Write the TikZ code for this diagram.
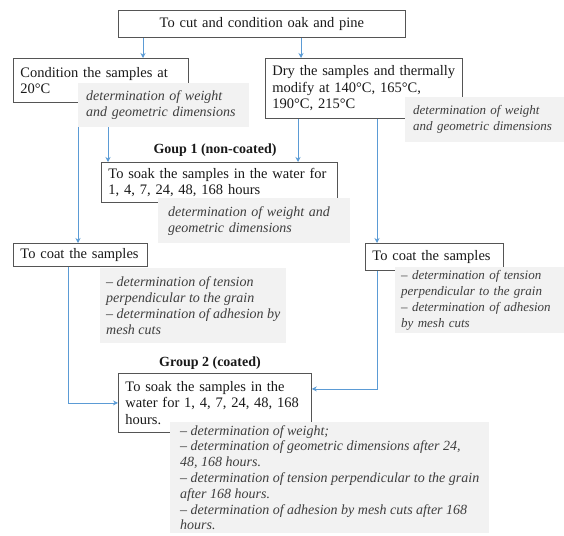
\documentclass[tikz,border=0pt]{standalone}
\usepackage{fontspec}
\setmainfont{Liberation Serif}
\usepackage{tikz}
\usetikzlibrary{calc,arrows.meta}
\definecolor{arrowblue}{RGB}{91,155,213}
\definecolor{boxgray}{RGB}{85,85,85}
\definecolor{notefill}{RGB}{242,242,242}
\definecolor{notetext}{RGB}{62,62,62}

\begin{document}
\begin{tikzpicture}[x=1pt,y=-1pt]
          \tikzstyle{box}=[draw=boxgray,line width=.8pt,fill=white,anchor=north west,align=left,inner xsep=7pt,inner ysep=2pt,text=black!90,font=\fontsize{14.5}{16.5}\selectfont]
          \tikzstyle{note}=[fill=notefill,anchor=north west,align=left,inner xsep=8pt,inner ysep=0pt,text=notetext,font=\fontsize{14}{15.8}\selectfont\itshape]
          \tikzstyle{arr}=[draw=arrowblue,line width=.8pt,-{Stealth[length=5pt,width=5pt]}]
          \tikzstyle{glabel}=[text=black!90,font=\fontsize{14}{16}\selectfont\bfseries]
          \useasboundingbox (0,0) rectangle (564,535);
          % steps
          \node[box,align=center,text width=273pt,minimum height=27pt] (cut) at (118,10) {To cut and condition oak and pine};
          \node[box,text width=161pt,minimum height=44pt] (cond) at (13,58) {Condition the samples at\\20°C};
          \node[box,text width=183pt,minimum height=60pt] (dry) at (265,58) {Dry the samples and thermally\\modify at 140°C, 165°C,\\190°C, 215°C};
          \node[box,text width=222pt,minimum height=40pt] (soakA) at (101,162) {To soak the samples in the water for\\1, 4, 7, 24, 48, 168 hours};
          \node[box,text width=120pt,minimum height=23pt] (coatL) at (13,243) {To coat the samples};
          \node[box,text width=124pt,minimum height=27pt] (coatR) at (365,243) {To coat the samples};
          \node[box,text width=179pt,minimum height=59pt] (soakB) at (118,373) {To soak the samples in the\\water for 1, 4, 7, 24, 48, 168\\hours.};
          \node[glabel] (grpA) at (215,150) {Goup 1 (non-coated)};
          \node[glabel] (grpB) at (210,363) {Group 2 (coated)};
          % columns of the connectors
          \foreach \n/\x in {ca/143,cb/301,cc/78,cd/108,ce/298,cf/377,cg/68}
            \coordinate (\n) at (\x,0);
          \foreach \s/\t/\c in {cut/cond/ca,cut/dry/cb,cond/coatL/cc,cond/soakA/cd,dry/soakA/ce,dry/coatR/cf}
            \draw[arr] (\s.south -| \c) -- (\t.north -| \c);
          \draw[arr] (coatL.south -| cg) |- (soakB.west);
          \draw[arr] (coatR.south -| cf) |- ([yshift=14pt]soakB.east);
          % measurements
          \node[note,text width=155pt,minimum height=44pt] (noteA) at (78,83) {determination of weight\\and geometric dimensions};
          \node[note,text width=143pt,minimum height=45pt,font=\fontsize{13}{15.8}\selectfont\itshape] (noteB) at (405,97) {determination of weight\\and geometric dimensions};
          \node[note,inner xsep=10pt,text width=172pt,minimum height=45pt] (noteC) at (158,198) {determination of weight and\\geometric dimensions};
          \node[note,inner xsep=6pt,minimum height=75pt] (noteD) at (100,268) {– determination of tension\\perpendicular to the grain\\– determination of adhesion by\\mesh cuts};
          \node[note,inner xsep=6pt,text width=157pt,minimum height=66pt,font=\fontsize{13}{15.8}\selectfont\itshape] (noteE) at (395,267) {– determination of tension\\perpendicular to the grain\\– determination of adhesion\\by mesh cuts};
          \node[note,inner xsep=10pt,minimum height=111pt] (noteF) at (170,422) {– determination of weight;\\– determination of geometric dimensions after 24,\\48, 168 hours.\\– determination of tension perpendicular to the grain\\after 168 hours.\\– determination of adhesion by mesh cuts after 168\\hours.};
\end{tikzpicture}
\end{document}
